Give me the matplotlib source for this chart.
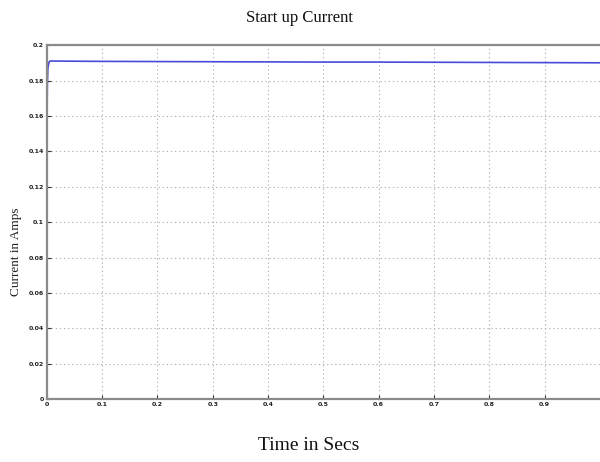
import matplotlib
matplotlib.use("Agg")
import matplotlib.pyplot as plt

# Start-up current trace (time in s, current in A)
time_s = [0.0, 0.0, 0.0005, 0.001, 0.002, 0.004, 0.006, 0.01, 0.05, 0.1, 0.2, 0.3,
          0.4, 0.5, 0.6, 0.7, 0.8, 0.9, 1.0]
current_a = [0.0, 0.127, 0.160, 0.178, 0.187, 0.1905, 0.1911, 0.1911, 0.1910, 0.1909,
             0.1908, 0.1907, 0.1906, 0.1905, 0.1905, 0.1904, 0.1903, 0.1902, 0.1901]

x_ticks = [0, 0.1, 0.2, 0.3, 0.4, 0.5, 0.6, 0.7, 0.8, 0.9]
x_labels = ["0", "0.1", "0.2", "0.3", "0.4", "0.5", "0.6", "0.7", "0.8", "0.9"]
y_ticks = [0, 0.02, 0.04, 0.06, 0.08, 0.1, 0.12, 0.14, 0.16, 0.18, 0.2]
y_labels = ["0", "0.02", "0.04", "0.06", "0.08", "0.1", "0.12", "0.14", "0.16", "0.18", "0.2"]

fig = plt.figure(figsize=(6.0, 4.62), dpi=100)
ax = fig.add_axes([0.078, 0.136, 0.922, 0.766])

ax.plot(time_s, current_a, color="#4a4ad8", linewidth=1.2)

ax.set_xlim(0, 1.0)
ax.set_ylim(0, 0.2)
ax.set_xticks(x_ticks)
ax.set_xticklabels(x_labels)
ax.set_yticks(y_ticks)
ax.set_yticklabels(y_labels)
ax.tick_params(labelsize=4.5, length=3, direction="in", color="#333333", pad=2)
for lab in ax.get_xticklabels() + ax.get_yticklabels():
    lab.set_fontweight("bold")
    lab.set_color("#222222")

ax.grid(True, color="#b4b4b4", linestyle=(0, (1.2, 2.5)), linewidth=0.8)
for side in ("top", "bottom", "left"):
    ax.spines[side].set_color("#8a8a8a")
    ax.spines[side].set_linewidth(1.6)
ax.spines["right"].set_visible(False)

serif = ["Liberation Serif", "DejaVu Serif"]
fig.text(0.5, 0.962, "Start up Current", ha="center", va="center",
         fontsize=12, family=serif, color="#111111")
fig.text(0.515, 0.035, "Time in Secs", ha="center", va="center",
         fontsize=14, family=serif, color="#111111")
fig.text(0.027, 0.455, "Current in Amps", ha="center", va="center", rotation=90,
         fontsize=9.5, family=serif, color="#222222")

fig.savefig("out.png", dpi=100)
